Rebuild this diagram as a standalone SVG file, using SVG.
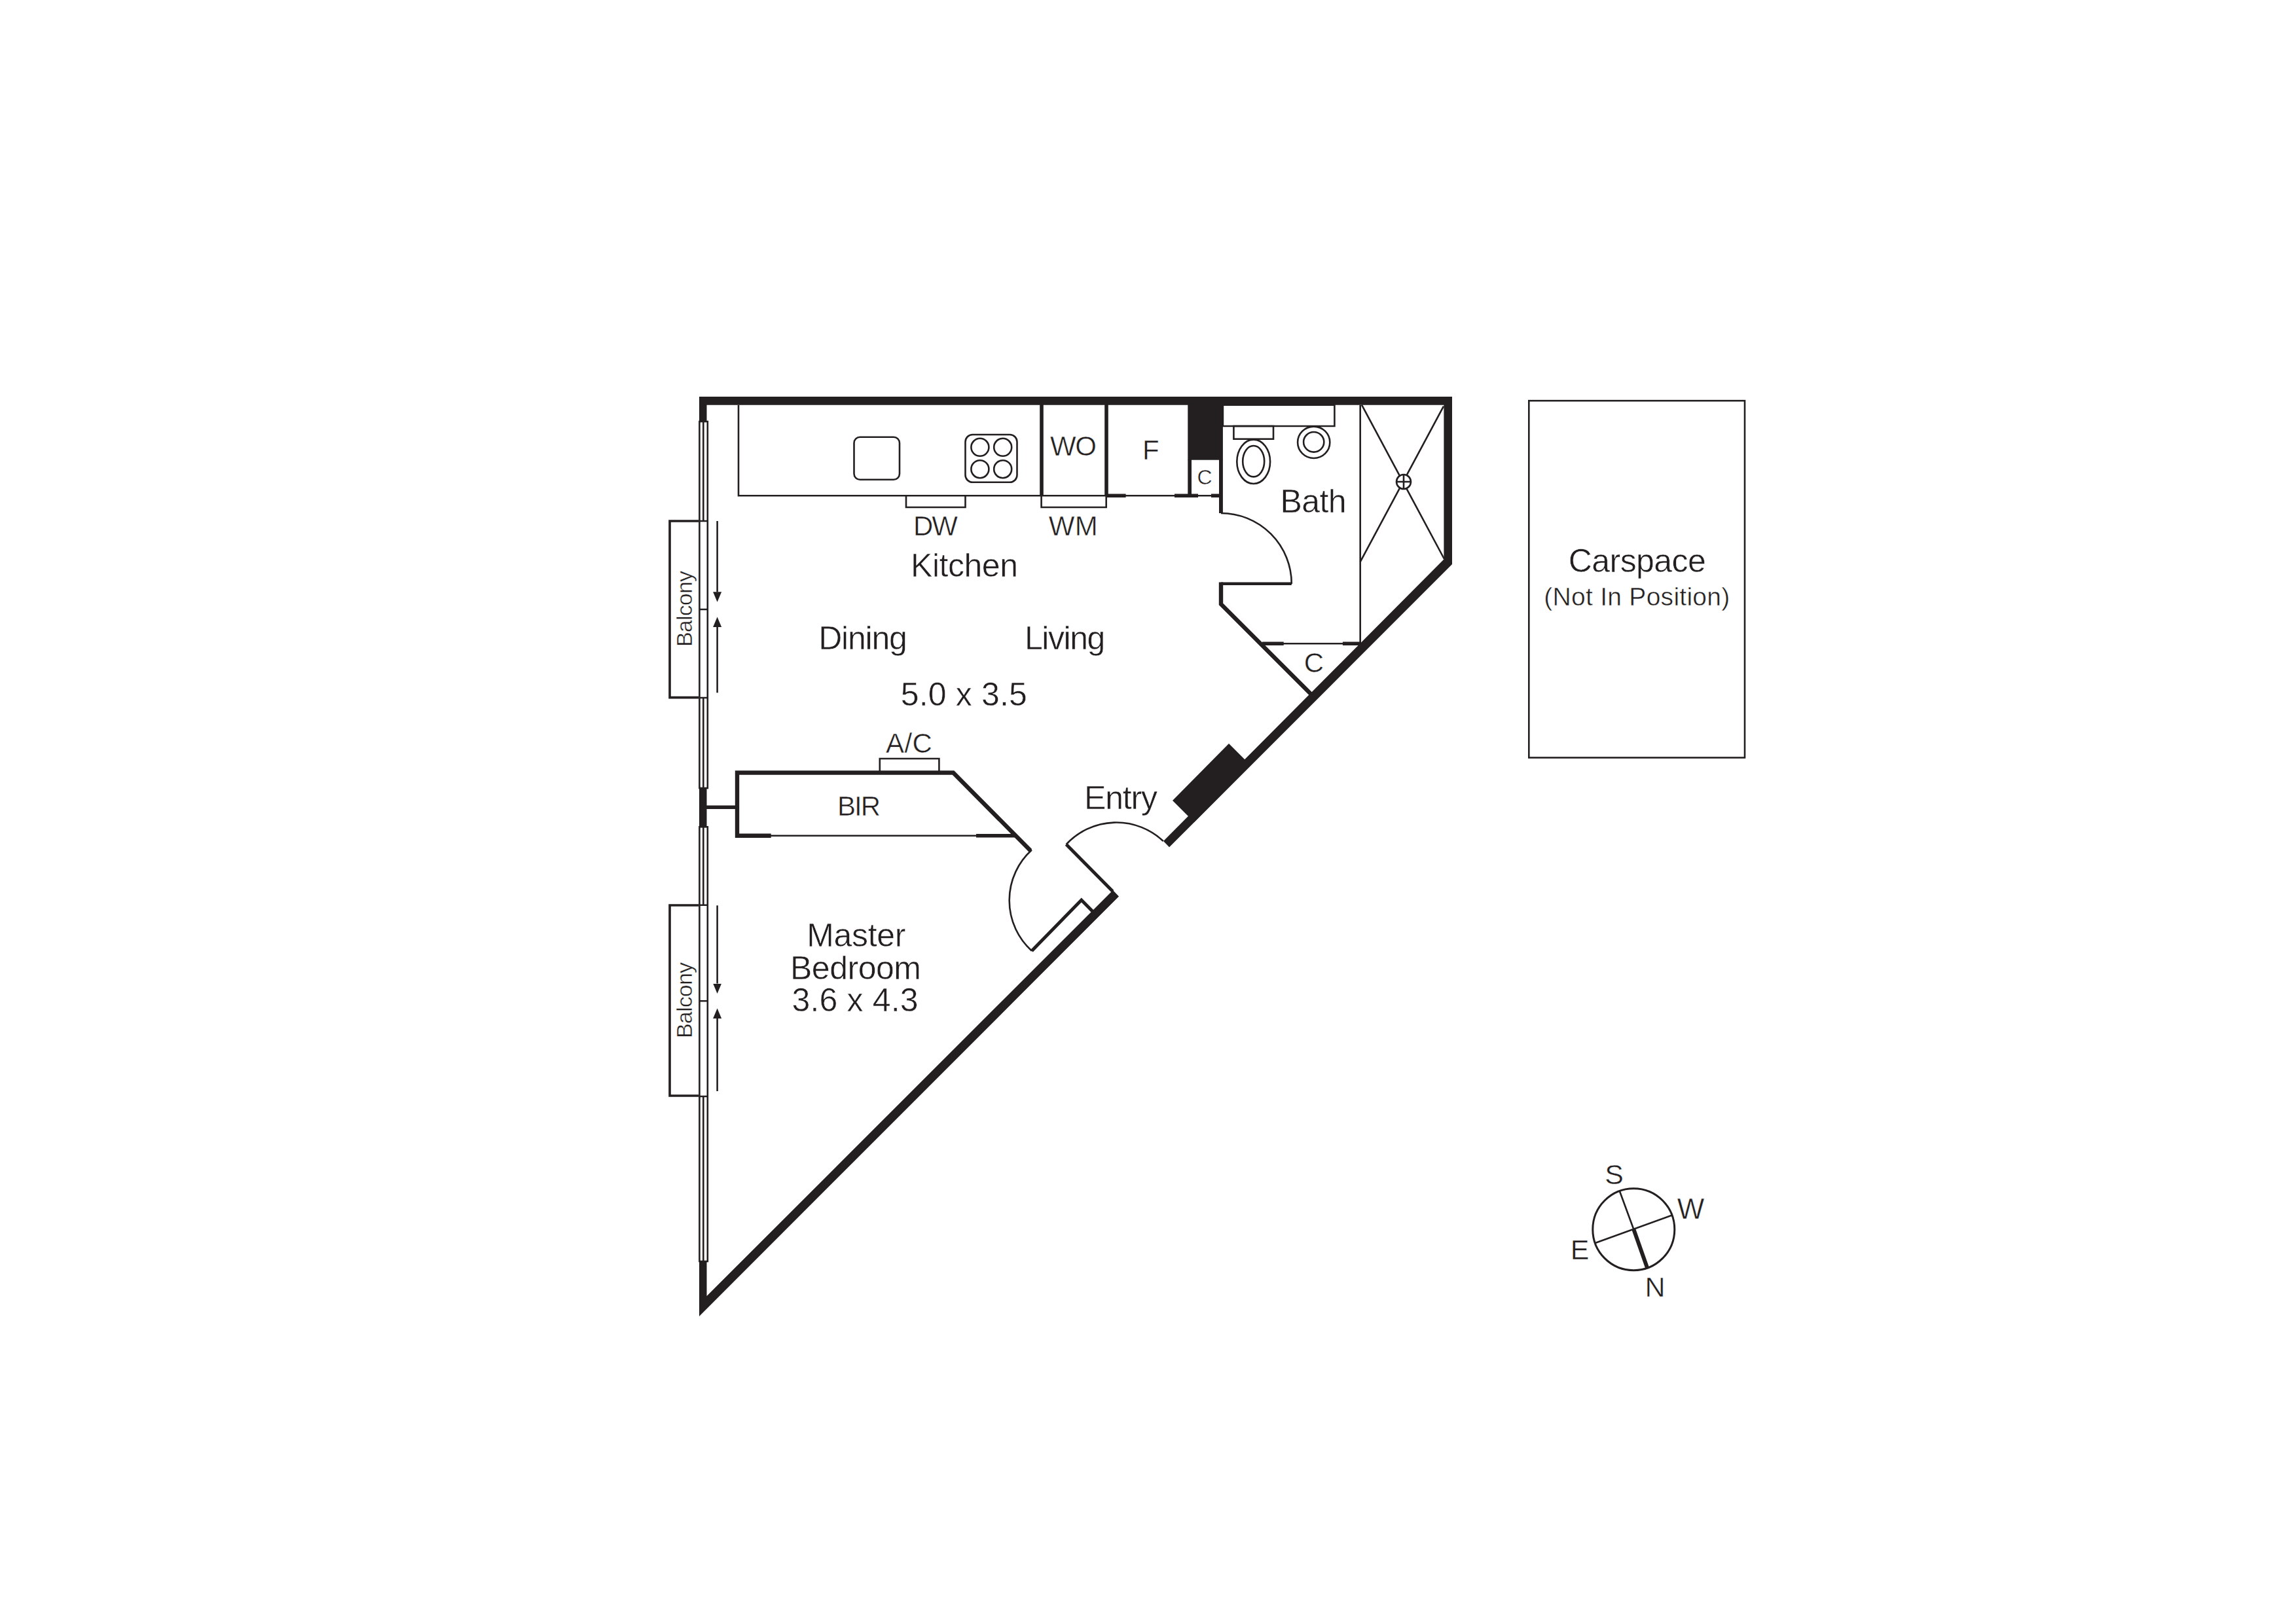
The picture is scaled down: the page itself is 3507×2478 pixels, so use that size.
<svg xmlns="http://www.w3.org/2000/svg" width="3507" height="2478" viewBox="0 0 3507 2478">
<style>
.l{fill:none;stroke:#231f20;stroke-width:2.6}
.f{fill:#231f20;stroke:none}
.m{fill:none;stroke:#231f20;stroke-width:5.6}
.b{fill:#fff;stroke:#231f20;stroke-width:2.6}
text{font-family:"Liberation Sans",Arial,sans-serif;fill:#231f20;text-anchor:middle;stroke:#fff;stroke-width:.5}
.s{font-size:42px}
.r{font-size:50px}
</style>
<defs>
<marker id="ah" markerUnits="userSpaceOnUse" markerWidth="16" markerHeight="14" refX="0" refY="6.5" orient="auto"><path d="M0,0L15.5,6.5L0,13Z" fill="#231f20"/></marker>
</defs>
<rect width="3507" height="2478" fill="#fff"/>
<g id="kitchen-fittings">
<path class="l" d="M1128,618.7V757.3H1692"/>
<rect class="l" x="1304.5" y="667.7" width="69.5" height="65" rx="9"/>
<rect class="l" x="1474.5" y="664" width="79" height="72.7" rx="11"/>
<circle class="l" cx="1496.9" cy="683.3" r="13.5"/>
<circle class="l" cx="1531.7" cy="683.3" r="13.5"/>
<circle class="l" cx="1496.9" cy="716.7" r="13.5"/>
<circle class="l" cx="1531.7" cy="716.7" r="13.5"/>
<path class="l" d="M1384,757V775H1474.5V757"/>
<path class="l" d="M1590.6,757V775H1689.7V757"/>
<path class="m" d="M1591,618V758"/>
<path class="m" d="M1690,618V758"/>
<path class="m" d="M1690,757.3H1719.6M1794,757.3H1830M1850,757.3H1866"/>
<path class="l" d="M1719,757.3H1794M1830,757.3H1850"/>
</g>
<g id="bathroom">
<path class="b" d="M1867.9,618.7H2038.4V651H1867.9Z"/>
<rect class="l" x="1884.4" y="651" width="60.6" height="19.7"/>
<ellipse class="l" cx="1914.7" cy="705.3" rx="25.4" ry="33.7"/>
<ellipse class="l" cx="1914.7" cy="704.7" rx="16.5" ry="23.7"/>
<ellipse class="l" cx="2006.7" cy="675.8" rx="24.6" ry="24.2"/>
<ellipse class="l" cx="2006.7" cy="675.3" rx="15.6" ry="15.3"/>
<path class="l" d="M2077.7,618.7V981"/>
<path class="l" d="M2080,618.7L2206,854M2205,620.7L2077.7,858.3"/>
<circle class="b" cx="2144" cy="736" r="11"/>
<path class="l" d="M2133,736H2155M2144,725V747"/>
<path class="l" d="M1960,983.3H2051"/>
<path class="m" d="M1928,983.3H1960.7M2050.9,983.3H2079"/>
</g>
<g id="walls">
<path class="f" d="M1068,606H2218V862L1786,1294.3L1777,1285L2205.4,854.6V618.7H1079.5V644H1068Z"/>
<path class="f" d="M1709,1369.5L1068,2011V1927H1079.5V1980L1700,1360Z"/>
<rect class="f" x="1814.3" y="618" width="53.6" height="84.7"/>
<rect class="f" x="1814.3" y="702" width="5.7" height="55"/>
<rect class="f" x="1862" y="702" width="5.9" height="82"/>
<path class="f" d="M1877,1136L1910,1169L1824,1256L1791,1223Z"/>
<rect class="f" x="1068" y="1204" width="11.5" height="59.3"/>
<path class="m" d="M1079,1233.3H1124"/>
<path d="M1972.8,891.8H1865" fill="none" stroke="#231f20" stroke-width="4.4"/>
<path d="M1865,889.6V923L2002,1060" fill="none" stroke="#231f20" stroke-width="6.4"/>
</g>
<g id="bir">
<path d="M1177.7,1276.7H1126V1180.5H1456L1574,1299.5" fill="none" stroke="#231f20" stroke-width="6.4"/>
<path class="l" d="M1177,1276.7H1491"/>
<path class="m" d="M1491,1276.7H1550"/>
<path class="l" d="M1343.8,1178V1159H1434.4V1178"/>
</g>
<g id="doors">
<path class="l" d="M1865,784A108,108 0 0 1 1972.8,892"/>
<path class="l" d="M1628.6,1290A104.3,104.3 0 0 1 1776.8,1285"/>
<path d="M1628.6,1290L1699.6,1361.7" fill="none" stroke="#231f20" stroke-width="5"/>
<path class="l" d="M1575.9,1298.5A104,104 0 0 0 1575.9,1452.7"/>
<path d="M1575.9,1452.7L1651.8,1375L1670,1393.5" fill="none" stroke="#231f20" stroke-width="5"/>
</g>
<g id="windows">
<rect class="b" x="1068.4" y="644" width="12.4" height="560"/>
<rect class="b" x="1068.4" y="1263.3" width="12.4" height="663.7"/>
<path class="l" d="M1074.3,644V796M1074.3,1066V1204M1074.3,1263.3V1382.7M1074.3,1675V1927"/>
<path class="l" d="M1068,796H1080.5M1068,931H1080.5M1068,1066H1080.5M1068,1382.7H1080.5M1068,1529.2H1080.5M1068,1675H1080.5"/>
<path class="l" d="M1095.6,796V904.3" marker-end="url(#ah)"/>
<path class="l" d="M1095.6,1058.3V958" marker-end="url(#ah)"/>
<path class="l" d="M1095.6,1383.3V1502.5" marker-end="url(#ah)"/>
<path class="l" d="M1095.6,1667V1556" marker-end="url(#ah)"/>
</g>
<g id="balcony-1">
<path d="M1067,796H1023V1065.6H1067" fill="none" stroke="#231f20" stroke-width="3.6"/>
<text transform="translate(1057,988) rotate(-90)" x="58" y="0" font-size="34" textLength="116">Balcony</text>
</g>
<g id="balcony-2">
<path d="M1067,1383H1023V1674H1067" fill="none" stroke="#231f20" stroke-width="3.6"/>
<text transform="translate(1057,1586) rotate(-90)" x="58" y="0" font-size="34" textLength="116">Balcony</text>
</g>
<g id="labels">
<text class="r" x="1473" y="880.7" textLength="164">Kitchen</text>
<text class="r" x="1318" y="992" textLength="135.5">Dining</text>
<text class="r" x="1626.6" y="992" textLength="123.4">Living</text>
<text class="r" x="1472.3" y="1078.3" textLength="193">5.0 x 3.5</text>
<text class="s" x="1429" y="817.7" textLength="68">DW</text>
<text class="s" x="1639.3" y="817.7" textLength="75">WM</text>
<text class="s" x="1639.5" y="695.7" textLength="71">WO</text>
<text class="s" x="1757.8" y="701.7">F</text>
<text x="1840" y="740.3" font-size="32">C</text>
<text class="r" x="2006" y="783.3" textLength="101">Bath</text>
<text class="s" x="2007" y="1027">C</text>
<text class="s" x="1388.4" y="1150" textLength="71">A/C</text>
<text class="s" x="1312" y="1245.7" textLength="66">BIR</text>
<text class="r" x="1712" y="1235.7" textLength="112">Entry</text>
<text class="r" x="1307.8" y="1445.7" textLength="151">Master</text>
<text class="r" x="1307" y="1495.7" textLength="200">Bedroom</text>
<text class="r" x="1306" y="1545" textLength="193">3.6 x 4.3</text>
</g>
<g id="carspace">
<rect class="l" x="2335.3" y="612.2" width="329.7" height="545.3"/>
<text class="r" x="2500.8" y="874.3" textLength="210">Carspace</text>
<text x="2500.3" y="924.9" font-size="39" textLength="284">(Not In Position)</text>
</g>
<g id="compass">
<circle cx="2495.3" cy="1878.2" r="62.5" fill="none" stroke="#231f20" stroke-width="3"/>
<path class="l" d="M2474,1820L2495.3,1878M2437.3,1898.7L2553.3,1856.7"/>
<path d="M2495.3,1878L2516,1936.7" fill="none" stroke="#231f20" stroke-width="6"/>
<text x="2465.7" y="1809" font-size="43">S</text>
<text x="2582.5" y="1862.3" font-size="44">W</text>
<text x="2413" y="1924.3" font-size="43">E</text>
<text x="2528" y="1981" font-size="43">N</text>
</g>
</svg>
